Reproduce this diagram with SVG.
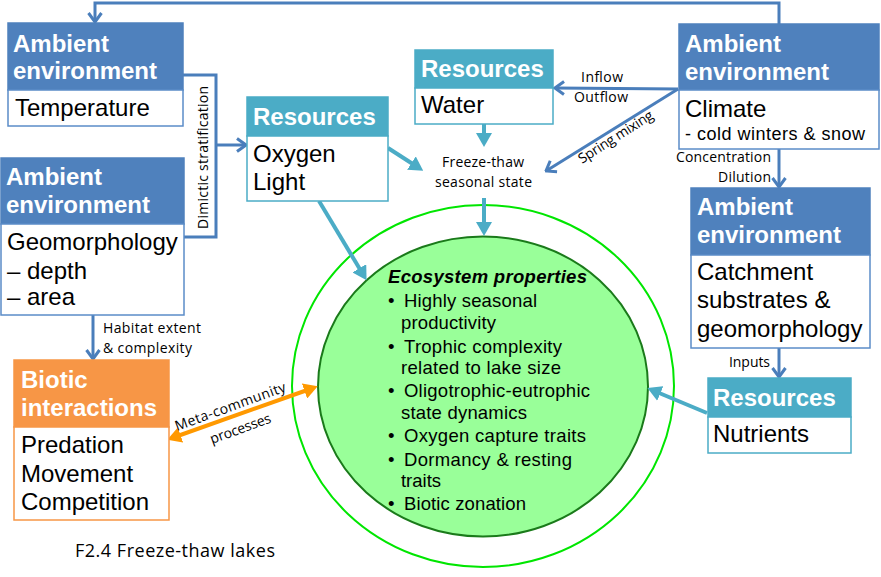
<svg xmlns="http://www.w3.org/2000/svg" width="881" height="577" viewBox="0 0 881 577">
<style>
.hb{fill:#4f81bd;stroke:#4f81bd;stroke-width:1.5}
.bb{fill:#fff;stroke:#5b8cc8;stroke-width:1.5}
.ht{fill:#4bacc6;stroke:#4bacc6;stroke-width:1.5}
.bt{fill:#fff;stroke:#4bacc6;stroke-width:1.5}
.ho{fill:#f79646;stroke:#f79646;stroke-width:1.5}
.bo{fill:#fff;stroke:#f79646;stroke-width:1.5}
.h{font-family:"Liberation Sans",Arial,sans-serif;font-weight:bold;font-size:24px;fill:#fff}
.b{font-family:"Liberation Sans",Arial,sans-serif;font-size:24px;fill:#000}
.s{font-family:"Liberation Sans",Arial,sans-serif;font-size:18px;fill:#000}
.c{font-family:"Liberation Sans",Arial,sans-serif;font-size:18.5px;fill:#000}
.l{font-family:"Open Sans","Noto Sans",sans-serif;font-size:14px;fill:#000}
.blue{fill:none;stroke:#4a7ebb;stroke-width:3}
.teal{fill:none;stroke:#4bacc6;stroke-width:4}
.orng{fill:none;stroke:#ff9900;stroke-width:4}
</style>
<defs>
<marker id="chev" markerUnits="userSpaceOnUse" viewBox="0 0 12 16" refX="10.5" refY="8" markerWidth="12" markerHeight="16" orient="auto">
<path d="M1.5,1.5 L10.5,8 L1.5,14.5" fill="none" stroke="#4a7ebb" stroke-width="3"/>
</marker>
<marker id="tri" markerUnits="userSpaceOnUse" viewBox="0 0 14 16" refX="9" refY="8" markerWidth="14" markerHeight="16" orient="auto">
<path d="M0,0 L14,8 L0,16 z" fill="#4bacc6"/>
</marker>
<marker id="otri" markerUnits="userSpaceOnUse" viewBox="0 0 14 16" refX="9" refY="8" markerWidth="14" markerHeight="16" orient="auto-start-reverse">
<path d="M0,0 L14,8 L0,16 z" fill="#ff9900"/>
</marker>
</defs>
<rect width="881" height="577" fill="#fff"/>

<g id="ecosystem">
<ellipse cx="483" cy="386" rx="191" ry="181" fill="none" stroke="#00e600" stroke-width="2"/>
<ellipse cx="483" cy="386.5" rx="165" ry="150" fill="#99ff99" stroke="#1a7a1a" stroke-width="2"/>
<text x="388" y="283" class="c" font-weight="bold" font-style="italic" textLength="199">Ecosystem properties</text>
<text x="388" y="307" class="c">•</text><text x="404" y="307" class="c" textLength="133">Highly seasonal</text>
<text x="401" y="329" class="c" textLength="95">productivity</text>
<text x="388" y="353" class="c">•</text><text x="404" y="353" class="c" textLength="158">Trophic complexity</text>
<text x="401" y="374" class="c" textLength="160">related to lake size</text>
<text x="388" y="397" class="c">•</text><text x="404" y="397" class="c" textLength="186">Oligotrophic-eutrophic</text>
<text x="401" y="419" class="c" textLength="126">state dynamics</text>
<text x="388" y="442" class="c">•</text><text x="404" y="442" class="c" textLength="182">Oxygen capture traits</text>
<text x="388" y="466" class="c">•</text><text x="404" y="466" class="c" textLength="168">Dormancy &amp; resting</text>
<text x="401" y="487" class="c" textLength="40">traits</text>
<text x="388" y="510" class="c">•</text><text x="404" y="510" class="c" textLength="122">Biotic zonation</text>
</g>

<g id="connectors">
<path class="blue" d="M779,24 V3 H95 V22" marker-end="url(#chev)"/>
<path class="blue" d="M183,75 H216 V237 H184"/>
<path class="blue" d="M216,145 H246" marker-end="url(#chev)"/>
<path class="blue" d="M678,89 L555,88" marker-end="url(#chev)"/>
<path class="blue" d="M678,89 L546,171" marker-end="url(#chev)"/>
<path class="blue" d="M779,149 V187" marker-end="url(#chev)"/>
<path class="blue" d="M779,348 V377" marker-end="url(#chev)"/>
<path class="blue" d="M93,315 V359" marker-end="url(#chev)"/>
<path class="teal" d="M484,124 V142" marker-end="url(#tri)"/>
<path class="teal" d="M388,148 L419,168" marker-end="url(#tri)"/>
<path class="teal" d="M484,198 V231" marker-end="url(#tri)"/>
<path class="teal" d="M319,201 L364,276" marker-end="url(#tri)"/>
<path class="teal" d="M707,413 L652,390" marker-end="url(#tri)"/>
<path class="orng" d="M172,438 L313,388" marker-start="url(#otri)" marker-end="url(#otri)"/>
<text class="l" transform="translate(208,229) rotate(-90)" textLength="143">Dimictic stratification</text>
<text class="l" x="581" y="82" textLength="42">Inflow</text>
<text class="l" x="574" y="102" textLength="54">Outflow</text>
<text class="l" transform="translate(582,164) rotate(-32.5)" textLength="86">Spring mixing</text>
<text class="l" x="676" y="162" textLength="95">Concentration</text>
<text class="l" x="718" y="182" textLength="53">Dilution</text>
<text class="l" x="729" y="367" textLength="41">Inputs</text>
<text class="l" x="103" y="333" textLength="98">Habitat extent</text>
<text class="l" x="103" y="353" textLength="89">&amp; complexity</text>
<text class="l" x="483" y="167" text-anchor="middle" textLength="82">Freeze-thaw</text>
<text class="l" x="483.5" y="187" text-anchor="middle" textLength="97">seasonal state</text>
<text class="l" transform="translate(177,431) rotate(-20)" textLength="117">Meta-community</text>
<text class="l" transform="translate(212,444) rotate(-20)" textLength="64">processes</text>
</g>

<g id="temperature">
<rect class="hb" x="8" y="23" width="175" height="67"/>
<rect class="bb" x="8" y="90" width="175" height="36"/>
<text class="h" x="13" y="52">Ambient</text>
<text class="h" x="13" y="79">environment</text>
<text class="b" x="15" y="116">Temperature</text>
</g>

<g id="geomorphology">
<rect class="hb" x="1" y="158" width="183" height="66"/>
<rect class="bb" x="1" y="224" width="183" height="91"/>
<text class="h" x="6" y="185">Ambient</text>
<text class="h" x="6" y="213">environment</text>
<text class="b" x="7" y="250">Geomorphology</text>
<text class="b" x="7" y="279">– depth</text>
<text class="b" x="7" y="305">– area</text>
</g>

<g id="oxygen">
<rect class="ht" x="247" y="97" width="141" height="39"/>
<rect class="bt" x="247" y="136" width="141" height="65"/>
<text class="h" x="253" y="125">Resources</text>
<text class="b" x="253" y="162">Oxygen</text>
<text class="b" x="253" y="190">Light</text>
</g>

<g id="water">
<rect class="ht" x="415" y="50" width="138" height="38"/>
<rect class="bt" x="415" y="88" width="138" height="36"/>
<text class="h" x="421" y="77">Resources</text>
<text class="b" x="421" y="113">Water</text>
</g>

<g id="climate">
<rect class="hb" x="679" y="24" width="200" height="66"/>
<rect class="bb" x="679" y="90" width="200" height="59"/>
<text class="h" x="685" y="52">Ambient</text>
<text class="h" x="685" y="80">environment</text>
<text class="b" x="685" y="117">Climate</text>
<text class="s" x="685" y="140" textLength="180">- cold winters &amp; snow</text>
</g>

<g id="catchment">
<rect class="hb" x="691" y="188" width="179" height="67"/>
<rect class="bb" x="691" y="255" width="179" height="93"/>
<text class="h" x="697" y="215">Ambient</text>
<text class="h" x="697" y="243">environment</text>
<text class="b" x="697" y="280">Catchment</text>
<text class="b" x="697" y="308">substrates &amp;</text>
<text class="b" x="697" y="337">geomorphology</text>
</g>

<g id="nutrients">
<rect class="ht" x="708" y="378" width="143" height="39"/>
<rect class="bt" x="708" y="417" width="143" height="36"/>
<text class="h" x="713" y="406">Resources</text>
<text class="b" x="713" y="442">Nutrients</text>
</g>

<g id="biotic">
<rect class="ho" x="14" y="360" width="155" height="67"/>
<rect class="bo" x="14" y="427" width="155" height="93"/>
<text class="h" x="21" y="388">Biotic</text>
<text class="h" x="21" y="416">interactions</text>
<text class="b" x="21" y="453">Predation</text>
<text class="b" x="21" y="482">Movement</text>
<text class="b" x="21" y="510">Competition</text>
</g>

<text x="75" y="557" font-family="Open Sans, Noto Sans, sans-serif" font-size="18" fill="#000" textLength="200">F2.4 Freeze-thaw lakes</text>
</svg>
